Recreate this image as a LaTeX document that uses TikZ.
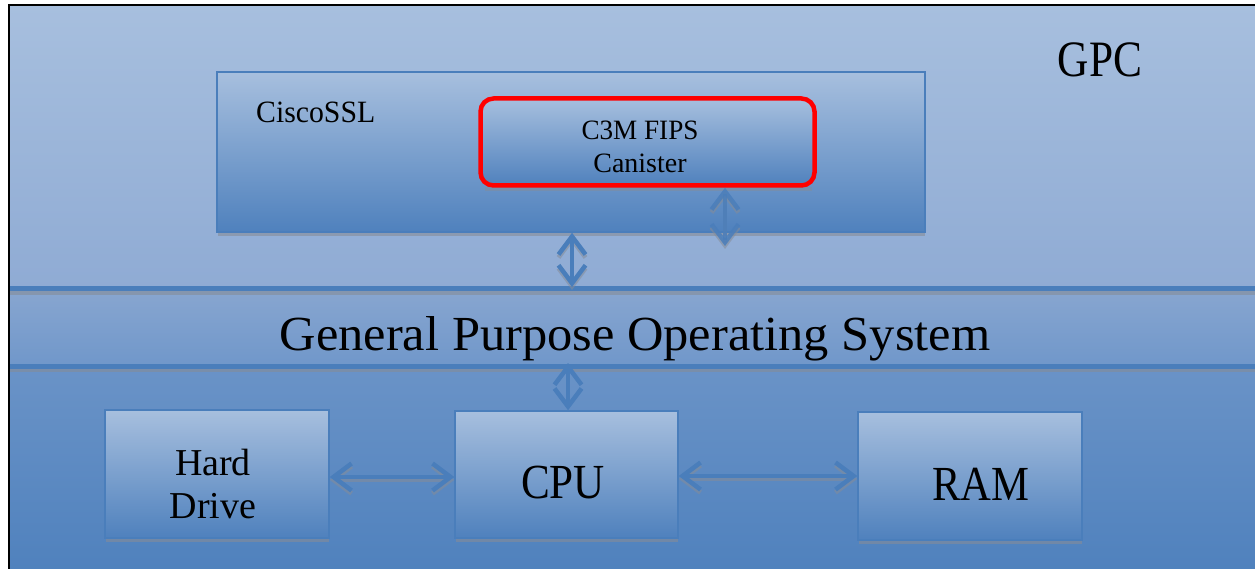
\documentclass[tikz,border=0pt]{standalone}
\usepackage{fontspec}
\usepackage{graphicx}
\setmainfont{Liberation Serif}
\usetikzlibrary{arrows.meta}
\definecolor{dk}{HTML}{4F81BD}
\definecolor{lt}{HTML}{A7BFDE}
\definecolor{ln}{HTML}{4A7EBB}
\definecolor{shd}{HTML}{858C98}
\definecolor{topbot}{HTML}{8FABD4}
\definecolor{bandtop}{HTML}{88A6D0}
\definecolor{bandbot}{HTML}{7097CA}
\definecolor{lowtop}{HTML}{6A93C7}
\tikzset{
  box/.style={draw=ln, line width=1.5pt, top color=lt, bottom color=dk, inner sep=0pt},
  txt/.style={anchor=base, inner sep=0pt, text=black},
  dbl/.style={draw=ln, line width=4.5pt, {Straight Barb[length=18pt,width=27pt]}-{Straight Barb[length=18pt,width=27pt]}},
  dblshadow/.style={draw=shd, opacity=0.55, line width=4.5pt, {Straight Barb[length=18pt,width=27pt]}-{Straight Barb[length=18pt,width=27pt]}},
  band/.style={draw=ln, line width=5pt},
}
\begin{document}
\begin{tikzpicture}[x=1pt,y=-1pt]
\useasboundingbox (0,0) rectangle (1255,569);
\fill[white] (0,0) rectangle (1255,569);
% background regions
\shade[top color=lt, bottom color=topbot] (9,5) rectangle (1260,289);
\shade[top color=bandtop, bottom color=bandbot] (9,289) rectangle (1260,366);
\shade[top color=lowtop, bottom color=dk] (9,366) rectangle (1260,575);
% outer frame
\draw[black, line width=2pt] (9,575) -- (9,5.5) -- (1260,5.5);
% band lines
\coordinate (l1) at (0,287);
\coordinate (l2) at (0,363);
\fill[shd, opacity=0.6] (10,291) rectangle (1255,295);
\draw[band] (10,288.5) -- (1255,288.5);
\fill[shd, opacity=0.6] (10,368) rectangle (1255,372);
\draw[band] (10,366) -- (1255,366);
% GPC label
\node[txt, font=\fontsize{51}{55}\selectfont] (gpc) at (1100,77) {\scalebox{0.85}[1]{GPC}};
% CiscoSSL box
\fill[shd, opacity=0.6] (218,233) rectangle (925,236);
\node[box, minimum width=708pt, minimum height=160pt] (ssl) at (571,152) {};
\node[txt, anchor=base west, font=\fontsize{31}{35}\selectfont] (sslt) at (256,123) {\scalebox{0.96}[1]{CiscoSSL}};
% Canister
\fill[shd, opacity=0.5] (485,187) rectangle (812,191);
\node[draw=red, line width=4.5pt, rounded corners=13pt, top color=lt, bottom color=dk, inner sep=0pt,
      minimum width=334pt, minimum height=87pt] (can) at (647.5,142) {};
\node[txt, font=\fontsize{28}{32}\selectfont] (cana) at (640,140) {\scalebox{0.97}[1]{C3M FIPS}};
\node[txt, font=\fontsize{28}{32}\selectfont] (canb) at (640,173) {Canister};
% GPOS label
\node[txt, font=\fontsize{49}{53}\selectfont] (gpos) at (635,350) {\scalebox{1.03}[1]{General Purpose Operating System}};
% lower boxes
\fill[shd, opacity=0.6] (106,539) rectangle (329,542);
\fill[shd, opacity=0.6] (456,539) rectangle (678,542);
\fill[shd, opacity=0.6] (859,541) rectangle (1082,544);
\node[box, minimum width=224pt, minimum height=128pt] (hd) at (217,474) {};
\node[box, minimum width=223pt, minimum height=127pt] (cpu) at (566.5,474.5) {};
\node[box, minimum width=224pt, minimum height=128pt] (ram) at (970,476) {};
\node[txt, font=\fontsize{38}{42}\selectfont] (hdt1) at (213,475) {Hard};
\node[txt, font=\fontsize{38}{42}\selectfont] (hdt2) at (213,518) {Drive};
\node[txt, font=\fontsize{49}{53}\selectfont] (cput) at (563,498) {\scalebox{0.88}[1]{CPU}};
\node[txt, font=\fontsize{49}{53}\selectfont] (ramt) at (981,500) {\scalebox{0.87}[1]{RAM}};
% arrows
\coordinate (a2e) at (725,246);
\draw[dblshadow] ([xshift=1pt,yshift=-3pt]ssl.south) -- ([xshift=1pt,yshift=-3pt]ssl.south |- l1);
\draw[dbl] ([xshift=1pt]ssl.south) -- ([xshift=1pt]ssl.south |- l1);
\draw[dblshadow] ([yshift=-3pt]can.south -| a2e) -- ([yshift=-3pt]a2e);
\draw[dbl, opacity=0.85] (can.south -| a2e) -- (a2e);
\draw[dbl] ([xshift=1.5pt]cpu.north |- l2) -- ([xshift=1.5pt]cpu.north);
\draw[dblshadow] ([yshift=-6pt]hd.east) -- ([yshift=-6pt]hd.east -| cpu.west);
\draw[dbl] ([yshift=-3pt]hd.east) -- ([yshift=-3pt]hd.east -| cpu.west);
\draw[dblshadow] ([yshift=-4.5pt]cpu.east) -- ([yshift=-4.5pt]cpu.east -| ram.west);
\draw[dbl] ([yshift=-1.5pt]cpu.east) -- ([yshift=-1.5pt]cpu.east -| ram.west);
\end{tikzpicture}
\end{document}
